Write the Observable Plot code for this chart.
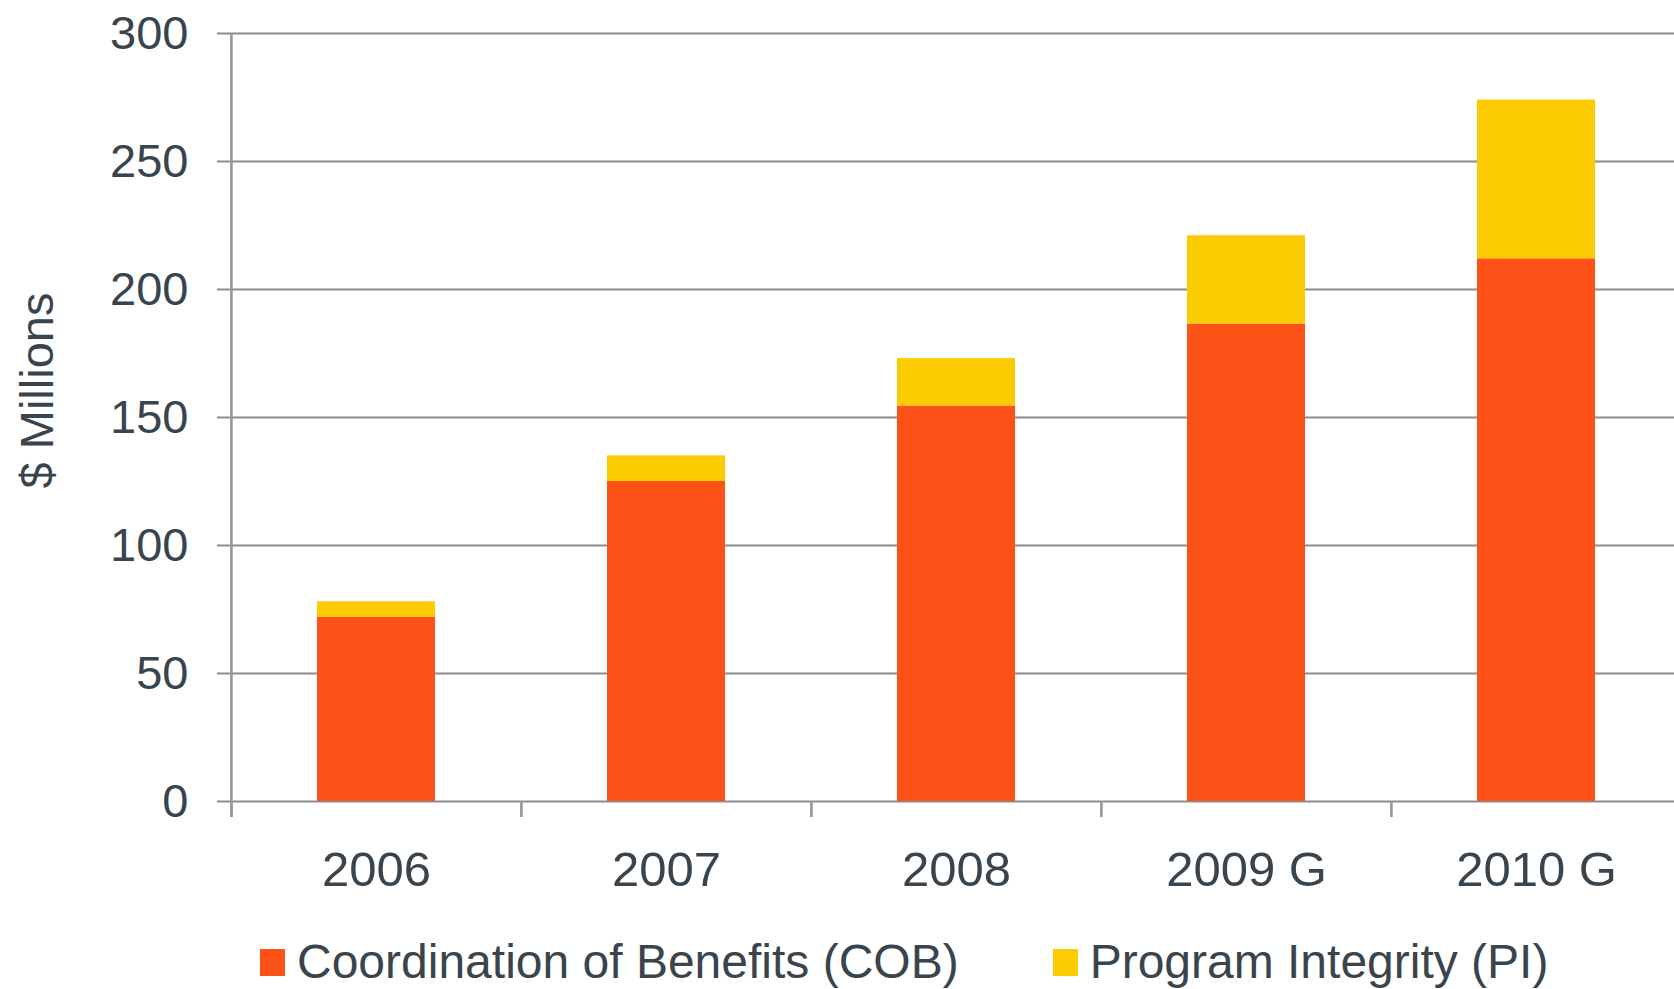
<!DOCTYPE html>
<html><head><meta charset="utf-8">
<script src="https://cdn.jsdelivr.net/npm/d3@7"></script>
<script src="https://cdn.jsdelivr.net/npm/@observablehq/plot@0.6"></script>
<style>
html,body{margin:0;padding:0;overflow:hidden;background:#fff;}
#chart svg{display:block;max-width:none !important;}
#legend{display:flex;align-items:center;font-family:"Liberation Sans",Arial,sans-serif;font-size:48px;color:#3a444c;line-height:56px;margin-top:9px;padding-left:260px;white-space:nowrap}
#legend .item{display:flex;align-items:center}
#legend .sw{width:25px;height:27px;display:inline-block;margin-right:12px}
</style></head><body><div id="chart"></div><div id="legend"></div>
<script>
const years = ["2006", "2007", "2008", "2009 G", "2010 G"];
const cob = [72, 125, 154.5, 186.5, 212];
const pi = [6, 10, 18.5, 34.5, 62];
const seriesNames = ["Coordination of Benefits (COB)", "Program Integrity (PI)"];
const seriesColors = ["#fc5117", "#fccb00"];
const yTicks = [0, 50, 100, 150, 200, 250, 300];
const yLabel = "$ Millions";

const textColor = "#3a444c";
const gridColor = "#8c8c8c";
const W = 1682, H = 925, mL = 231, mR = 0, mT = 33, mB = 124;
const step = (W - mL - mR) / years.length;

const table = [];
years.forEach((yr, i) => {
  table.push({year: yr, series: seriesNames[0], value: cob[i]});
  table.push({year: yr, series: seriesNames[1], value: pi[i]});
});

const chart = Plot.plot({
  width: W, height: H,
  marginLeft: mL, marginRight: mR, marginTop: mT, marginBottom: mB,
  style: {fontFamily: '"Liberation Sans", Arial, sans-serif', color: textColor, background: "#fff", maxWidth: "none"},
  x: {domain: years, paddingInner: 0.593, paddingOuter: 0.2965, axis: null},
  y: {domain: [0, 300], axis: null},
  color: {domain: seriesNames, range: seriesColors},
  marks: [
    Plot.gridY(yTicks, {stroke: gridColor, strokeOpacity: 1, strokeWidth: 2}),
    Plot.axisY({ticks: yTicks, tickSize: 14, tickPadding: 29, fontSize: 47, stroke: gridColor, strokeWidth: 2, fill: textColor, label: null}),
    Plot.axisX({tickSize: 0, tickPadding: 50, fontSize: 49, fill: textColor, label: null}),
    Plot.barY(table, {x: "year", y: "value", fill: "series"}),
    Plot.ruleX(years, {x: d => d, y1: 0, y2: 0, dx: -step / 2, insetBottom: -16, stroke: "#999", strokeWidth: 2.7}),
    Plot.ruleX([years[0]], {x: d => d, y1: 300, y2: 0, dx: -step / 2, insetBottom: -16, stroke: "#999", strokeWidth: 2.7}),
    Plot.text([yLabel], {text: d => d, frameAnchor: "left", textAnchor: "middle", rotate: -90, dx: -194, dy: -27, fontSize: 47, fill: textColor})
  ]
});
document.getElementById("chart").appendChild(chart);

const legend = document.getElementById("legend");
seriesNames.forEach((name, i) => {
  const item = document.createElement("div");
  item.className = "item";
  if (i > 0) item.style.marginLeft = "94px";
  const sw = document.createElement("span");
  sw.className = "sw";
  sw.style.background = seriesColors[i];
  const t = document.createElement("span");
  t.textContent = name;
  item.appendChild(sw); item.appendChild(t);
  legend.appendChild(item);
});
</script>
</body></html>
